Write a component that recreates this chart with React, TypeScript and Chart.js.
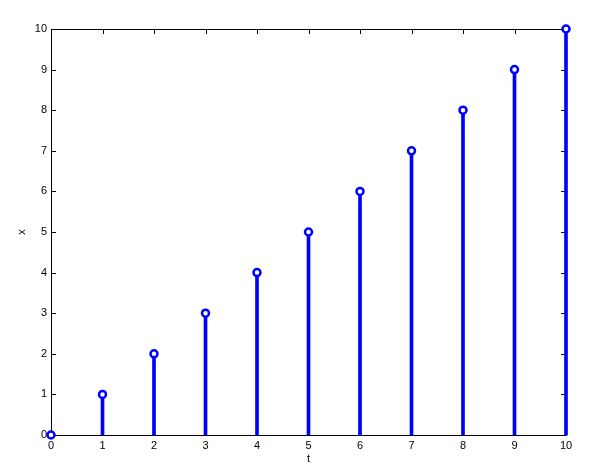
import React, { useEffect, useRef } from "react";
import { Chart, registerables } from "chart.js";

Chart.register(...registerables);

const tValues = [0, 1, 2, 3, 4, 5, 6, 7, 8, 9, 10];
const xValues = [0, 1, 2, 3, 4, 5, 6, 7, 8, 9, 10];
const xTicks = [0, 1, 2, 3, 4, 5, 6, 7, 8, 9, 10];
const yTicks = [0, 1, 2, 3, 4, 5, 6, 7, 8, 9, 10];

const FONT = "'Liberation Sans', Arial, Helvetica, sans-serif";

const boxPlugin = {
  id: "matlabBox",
  beforeDatasetsDraw(chart: any) {
    const { ctx, chartArea: a, scales } = chart;
    ctx.save();
    ctx.strokeStyle = "#000";
    ctx.lineWidth = 1;
    ctx.beginPath();
    ctx.rect(Math.round(a.left) + 0.5, Math.round(a.top) + 0.5, Math.round(a.right - a.left), Math.round(a.bottom - a.top));
    const L = 5;
    for (const v of xTicks) {
      const px = Math.round(scales.x.getPixelForValue(v)) + 0.5;
      ctx.moveTo(px, a.bottom);
      ctx.lineTo(px, a.bottom - L);
      ctx.moveTo(px, a.top);
      ctx.lineTo(px, a.top + L);
    }
    for (const v of yTicks) {
      const py = Math.round(scales.y.getPixelForValue(v)) + 0.5;
      ctx.moveTo(a.left, py);
      ctx.lineTo(a.left + L, py);
      ctx.moveTo(a.right, py);
      ctx.lineTo(a.right - L, py);
    }
    ctx.stroke();
    ctx.restore();
  },
};

export default function App() {
  const ref = useRef<HTMLCanvasElement>(null);
  useEffect(() => {
    document.body.style.margin = "0";
    const stems = tValues.map((t, i) => ({ x: t, y: xValues[i] }));
    const chart = new Chart(ref.current!, {
      type: "bar",
      data: {
        datasets: [
          {
            type: "bar",
            data: stems,
            backgroundColor: "#0000ff",
            borderWidth: 0,
            barThickness: 3,
            clip: false as any,
            order: 2,
          } as any,
          {
            type: "scatter",
            data: stems,
            pointRadius: 3.5,
            pointBorderWidth: 2.5,
            pointBorderColor: "#0000ff",
            pointBackgroundColor: "#ffffff",
            showLine: false,
            clip: false as any,
            order: 1,
          } as any,
        ],
      },
      options: {
        responsive: false,
        animation: false,
        layout: { padding: { top: 29, right: 35, left: 0, bottom: 0 } },
        plugins: { legend: { display: false }, tooltip: { enabled: false } },
        scales: {
          x: {
            type: "linear",
            min: 0,
            max: 10,
            offset: false,
            grid: { display: false, drawTicks: false },
            border: { display: false },
            afterBuildTicks: (s: any) => {
              s.ticks = xTicks.map((v) => ({ value: v }));
            },
            afterFit: (s: any) => {
              s.height = 34;
            },
            ticks: { color: "#000", font: { family: FONT, size: 11 }, padding: 4, maxRotation: 0, autoSkip: false },
            title: { display: true, text: "t", color: "#000", font: { family: FONT, size: 11 }, padding: { top: 0, bottom: 3 } },
          },
          y: {
            type: "linear",
            min: 0,
            max: 10,
            grid: { display: false, drawTicks: false },
            border: { display: false },
            afterBuildTicks: (s: any) => {
              s.ticks = yTicks.map((v) => ({ value: v }));
            },
            afterFit: (s: any) => {
              s.width = 51;
            },
            ticks: { color: "#000", font: { family: FONT, size: 11 }, padding: 4, autoSkip: false },
            title: { display: true, text: "x", color: "#000", font: { family: FONT, size: 11 }, padding: { top: 15, bottom: 0 } },
          },
        },
      } as any,
      plugins: [boxPlugin],
    });
    return () => chart.destroy();
  }, []);
  return <canvas ref={ref} width={601} height={469} style={{ display: "block" }} />;
}
